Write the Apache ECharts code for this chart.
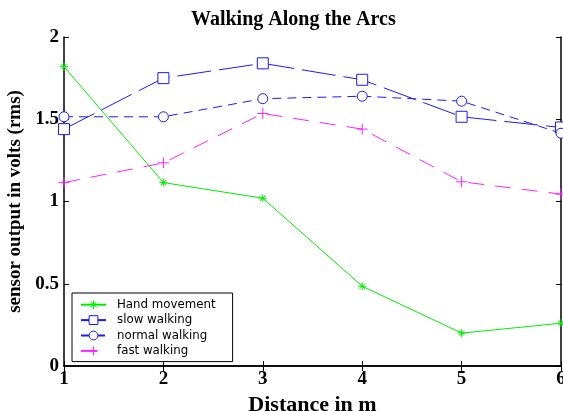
<!DOCTYPE html>
<html><head><meta charset="utf-8">
<script src="https://cdn.jsdelivr.net/npm/echarts@6/dist/echarts.min.js"></script>
<style>html,body{margin:0;padding:0;background:#fff}#c{width:563px;height:411px}</style>
</head><body><div id="c"></div>
<script>
var distances = [1, 2, 3, 4, 5, 6];
var handMovement = [1.82, 1.115, 1.02, 0.485, 0.2, 0.26];
var slowWalking = [1.44, 1.75, 1.84, 1.74, 1.515, 1.45];
var normalWalking = [1.515, 1.515, 1.625, 1.64, 1.61, 1.415];
var fastWalking = [1.115, 1.235, 1.535, 1.44, 1.12, 1.045];
var xTicks = [1, 2, 3, 4, 5, 6];
var yTicks = [0, 0.5, 1, 1.5, 2];

function pairs(v){ return distances.map(function(d,i){ return [d, v[i]]; }); }
var serif = 'Liberation Serif';
var star = 'path://M5,0V10M0,5H10M1.6,1.6L8.4,8.4M8.4,1.6L1.6,8.4';
var plus = 'path://M5,0V10M0,5H10';

var chart = echarts.init(document.getElementById('c'), null, {renderer:'canvas'});
var axisLine = {show:true, lineStyle:{color:'#000', width:1.5}};
chart.setOption({
  animation:false,
  backgroundColor:'#fff',
  title:{text:'Walking Along the Arcs', left:186, top:5,
    textStyle:{fontFamily:serif, fontWeight:'bold', fontSize:20, color:'#000'}},
  grid:{left:64, right:2, top:37, bottom:45, outerBoundsMode:'none', containLabel:false},
  legend:{orient:'vertical', left:72, top:293, itemWidth:25, itemHeight:11, itemGap:0,
    padding:[4,17,3,8], borderColor:'#000', borderWidth:1, backgroundColor:'#fff',
    itemStyle:{borderWidth:1},
    textStyle:{fontFamily:'DejaVu Sans', fontSize:11.8, lineHeight:15.4, color:'#000', padding:[0,0,0,6]},
    data:['Hand movement','slow walking','normal walking','fast walking']},
  xAxis:[{type:'value', min:1, max:6, interval:1, position:'bottom',
      name:'Distance in m', nameLocation:'middle', nameGap:17,
      nameTextStyle:{fontFamily:serif, fontWeight:'bold', fontSize:22, color:'#000'},
      axisLine:axisLine, axisTick:{inside:true, length:5, lineStyle:{color:'#000'}},
      splitLine:{show:false},
      axisLabel:{fontFamily:serif, fontWeight:'bold', fontSize:19, color:'#000', margin:4,
        formatter:function(v){ return xTicks.indexOf(v)>=0 ? String(v) : ''; }}},
    {type:'value', min:1, max:6, interval:1, position:'top',
      axisLine:axisLine, axisTick:{inside:true, length:5, lineStyle:{color:'#000'}},
      axisLabel:{show:false}, splitLine:{show:false}}],
  yAxis:[{type:'value', min:0, max:2, interval:0.5, position:'left',
      name:'sensor output in volts (rms)', nameLocation:'middle', nameGap:32,
      nameTextStyle:{fontFamily:serif, fontWeight:'bold', fontSize:19, color:'#000'},
      axisLine:axisLine, axisTick:{inside:true, length:5, lineStyle:{color:'#000'}},
      splitLine:{show:false},
      axisLabel:{fontFamily:serif, fontWeight:'bold', fontSize:19, color:'#000', margin:5,
        formatter:function(v){ return yTicks.indexOf(v)>=0 ? String(v) : ''; }}},
    {type:'value', min:0, max:2, interval:0.5, position:'right',
      axisLine:axisLine, axisTick:{inside:true, length:5, lineStyle:{color:'#000'}},
      axisLabel:{show:false}, splitLine:{show:false}}],
  series:[
    {name:'Hand movement', type:'line', data:pairs(handMovement), symbol:star, symbolSize:8,
      lineStyle:{color:'#00ee00', width:1}, itemStyle:{color:'#00ee00', borderColor:'#00ee00', borderWidth:1}},
    {name:'slow walking', type:'line', data:pairs(slowWalking), symbol:'rect', symbolSize:11,
      lineStyle:{color:'#1a1aff', width:1, type:[34,8]}, itemStyle:{color:'#fff', borderColor:'#1a1aff', borderWidth:1}},
    {name:'normal walking', type:'line', data:pairs(normalWalking), symbol:'circle', symbolSize:10,
      lineStyle:{color:'#1a1aff', width:1, type:[9,6]}, itemStyle:{color:'#fff', borderColor:'#1a1aff', borderWidth:1}},
    {name:'fast walking', type:'line', data:pairs(fastWalking), symbol:plus, symbolSize:11,
      lineStyle:{color:'#ff22ff', width:1, type:[16,11]}, itemStyle:{color:'#ff22ff', borderColor:'#ff22ff', borderWidth:1}}
  ]
});
</script></body></html>
